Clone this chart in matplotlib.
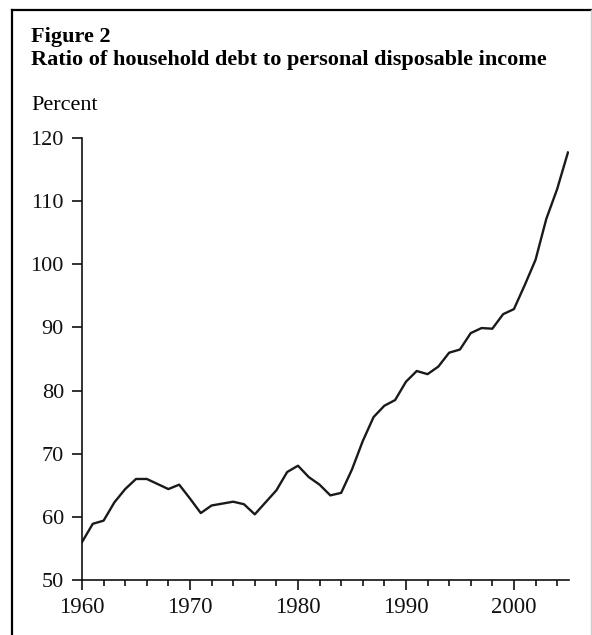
import matplotlib
matplotlib.use("Agg")
import matplotlib.pyplot as plt
from matplotlib.ticker import MultipleLocator
from matplotlib.lines import Line2D

plt.rcParams['font.family'] = ['Liberation Serif', 'DejaVu Serif']

years = list(range(1960, 2006))
debt_ratio = [56.0, 58.9, 59.4, 62.3, 64.4, 66.0, 66.0, 65.2, 64.4, 65.1,
              62.9, 60.6, 61.8, 62.1, 62.4, 62.0, 60.4, 62.3, 64.2, 67.1,
              68.1, 66.3, 65.1, 63.4, 63.8, 67.5, 72.0, 75.8, 77.6, 78.5,
              81.4, 83.1, 82.6, 83.8, 86.0, 86.5, 89.1, 89.9, 89.8, 92.1,
              92.9, 96.7, 100.7, 107.2, 111.9, 117.7]
y_ticks = [50, 60, 70, 80, 90, 100, 110, 120]
x_ticks = [1960, 1970, 1980, 1990, 2000]

fig = plt.figure(figsize=(5.92, 6.35), dpi=100)
ax = fig.add_axes([82 / 592, 1 - 580 / 635, (569 - 82) / 592, (580 - 138) / 635])

ax.plot(years, debt_ratio, color="#1a1a1a", linewidth=1.7)

ax.set_xlim(1960, 2005.1)
ax.set_ylim(50, 120)
ax.set_xticks(x_ticks)
ax.set_yticks(y_ticks)
ax.xaxis.set_minor_locator(MultipleLocator(2))

for side in ["top", "right"]:
    ax.spines[side].set_visible(False)
for side in ["left", "bottom"]:
    ax.spines[side].set_linewidth(1.2)
    ax.spines[side].set_color("#111111")

ax.tick_params(axis="y", which="major", direction="out", length=7, width=1.2,
               labelsize=16, pad=6, colors="#111111")
ax.tick_params(axis="x", which="major", direction="out", length=7, width=1.2,
               labelsize=16.5, pad=5, colors="#111111")
ax.tick_params(axis="x", which="minor", direction="out", length=4, width=1.2,
               colors="#111111")

# titles
fig.text(31 / 592, 1 - 37 / 635, "Figure 2", fontsize=16, fontweight="bold",
         va="center", ha="left")
fig.text(31 / 592, 1 - 60 / 635, "Ratio of household debt to personal disposable income",
         fontsize=16, fontweight="bold", va="center", ha="left")
fig.text(31 / 592, 1 - 105 / 635, "Percent", fontsize=16, va="center", ha="left")

# frame
fig.add_artist(Line2D([12 / 592, 12 / 592], [0, 1 - 10 / 635], transform=fig.transFigure,
                      color="black", linewidth=1.6))
fig.add_artist(Line2D([12 / 592, 591 / 592], [1 - 10 / 635, 1 - 10 / 635],
                      transform=fig.transFigure, color="black", linewidth=1.6))
fig.add_artist(Line2D([590.5 / 592, 590.5 / 592], [0, 1 - 10 / 635], transform=fig.transFigure,
                      color="#cccccc", linewidth=1.0))

fig.savefig("out.png", dpi=100)
